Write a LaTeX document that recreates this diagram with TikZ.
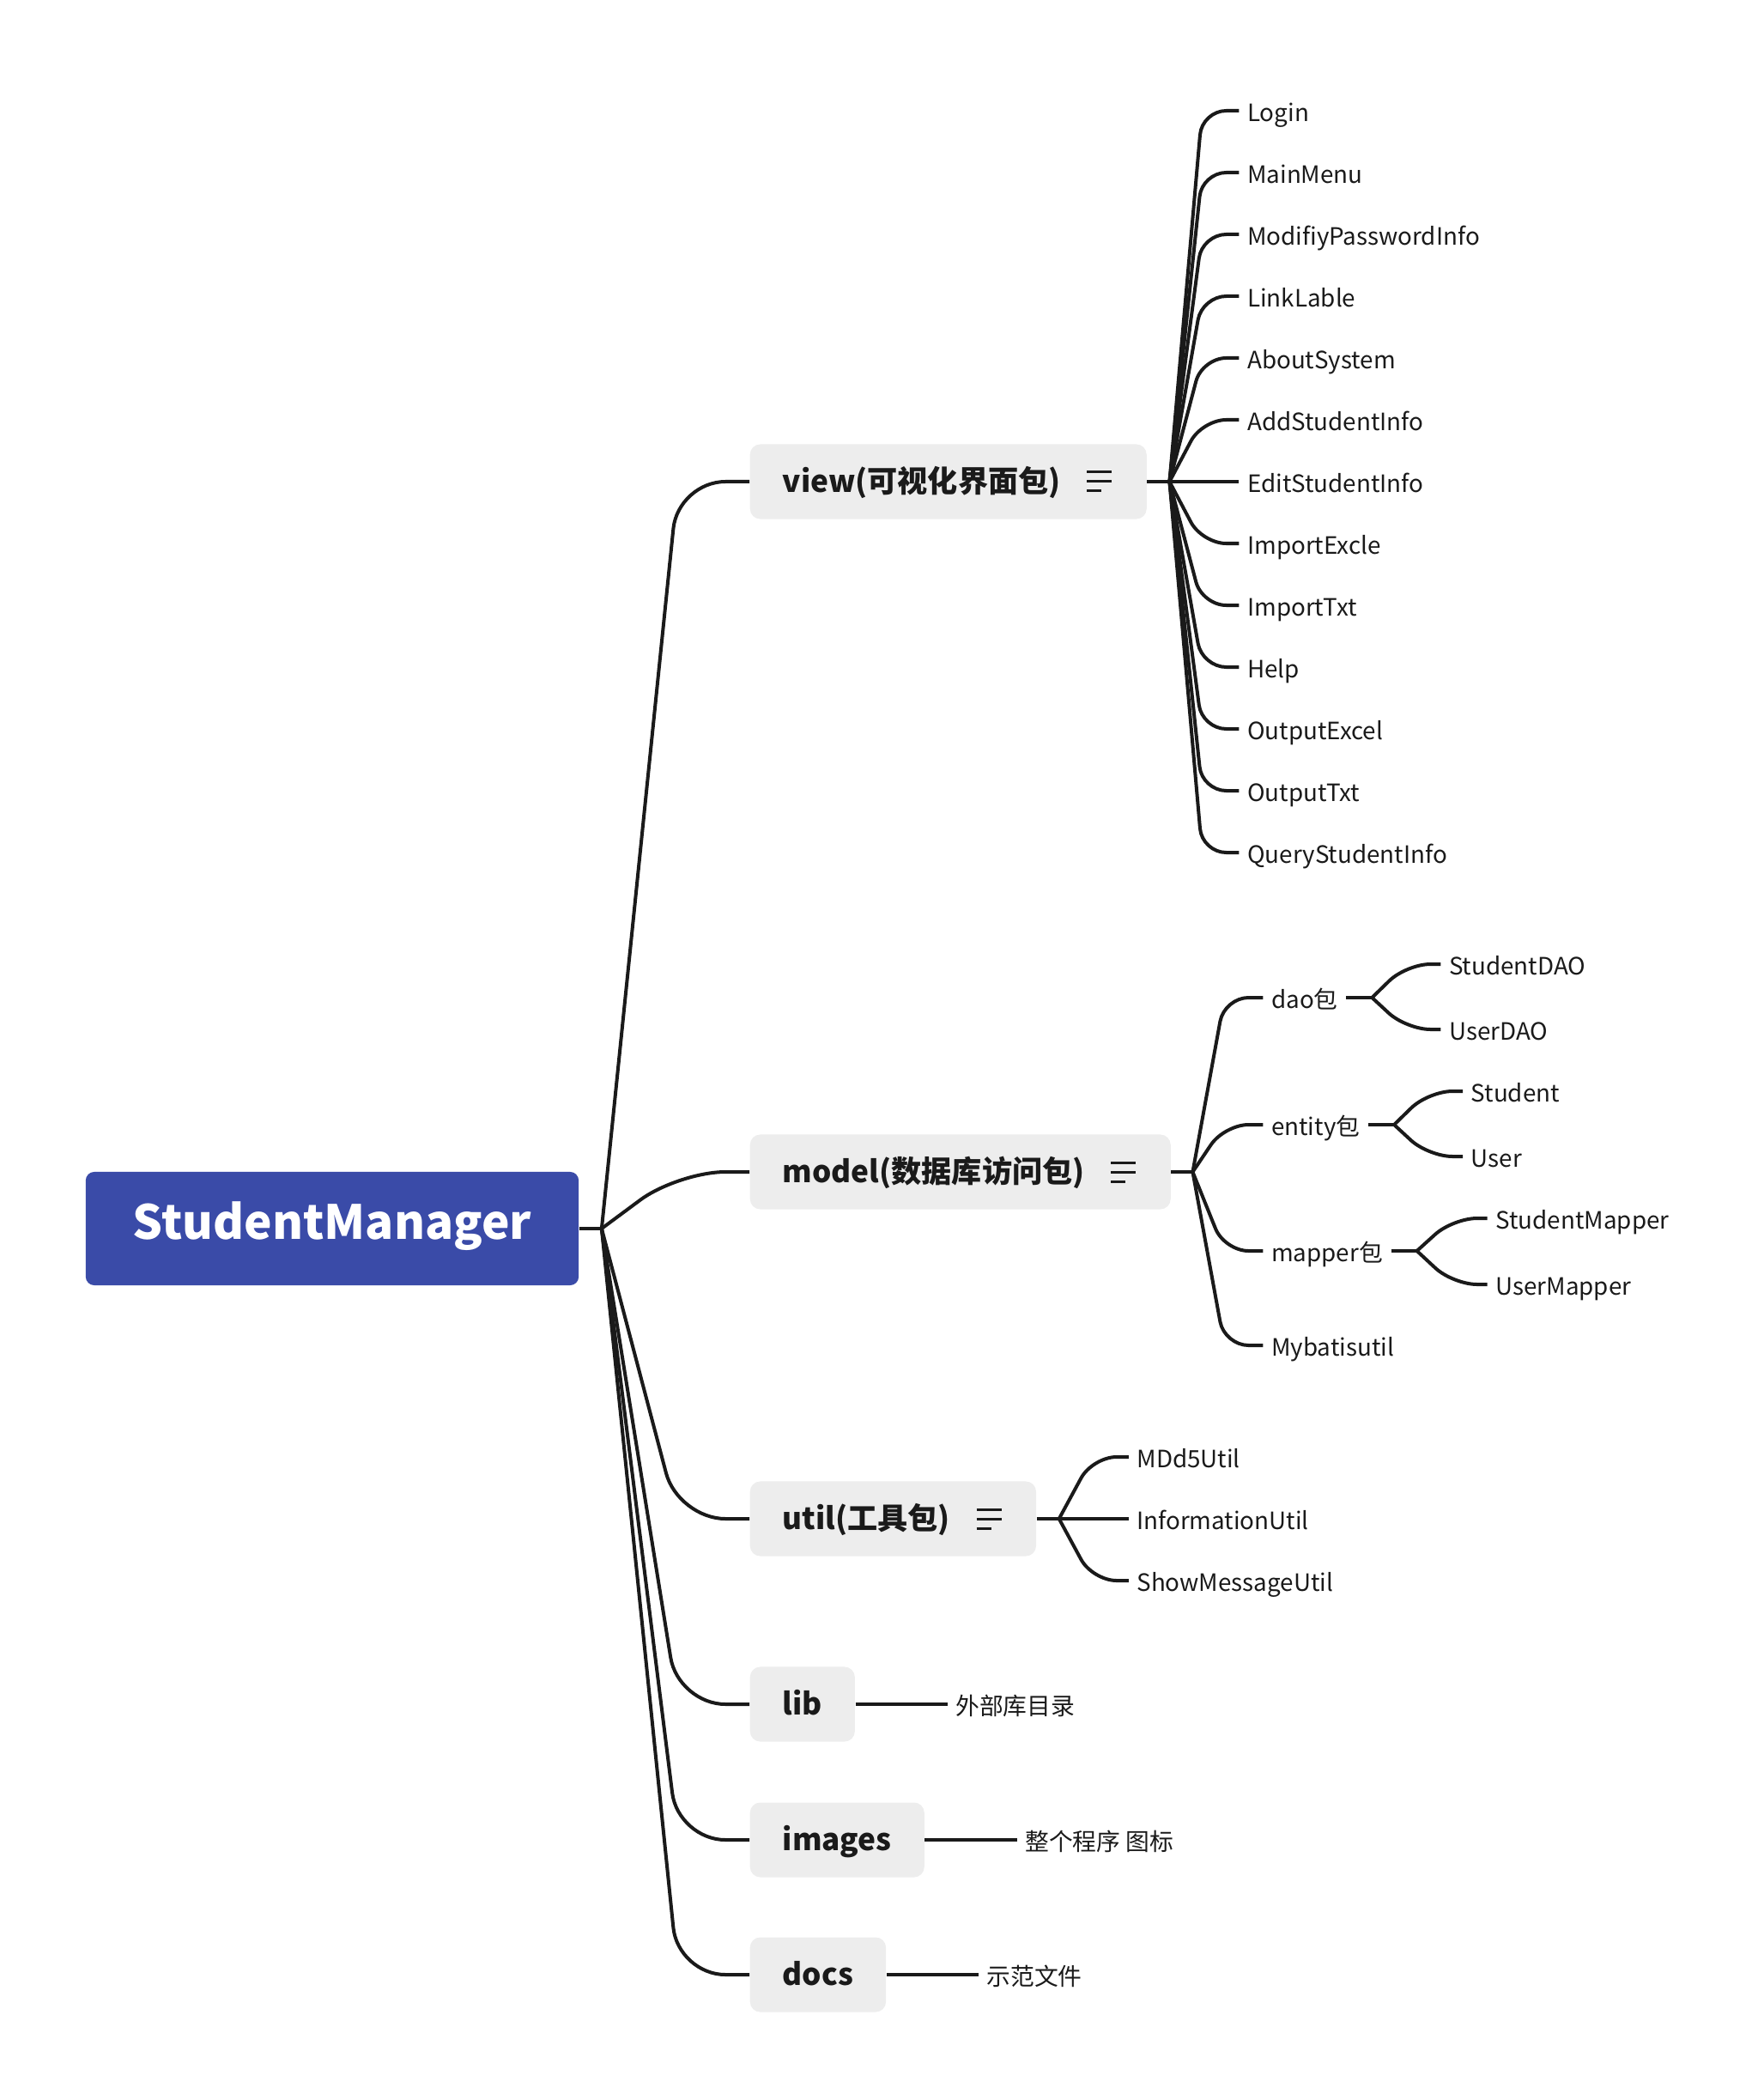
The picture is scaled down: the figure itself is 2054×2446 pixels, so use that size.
\documentclass[tikz,border=0pt]{standalone}
\usepackage{fontspec}
\setmainfont{Noto Sans CJK SC}
\usepackage{tikz}
\usetikzlibrary{calc}
\usetikzlibrary{positioning}

\definecolor{rootblue}{HTML}{3A4BA8}
\definecolor{boxgray}{HTML}{EDEDED}
\definecolor{linecol}{HTML}{1A1A1A}

\newcommand{\iconspace}{\hspace*{0.62cm}}
\newcommand{\menuicon}[1]{%
  \draw[icon] ($(#1.east)+(-70,-11)$) -- +(29,0)
              ($(#1.east)+(-70,0)$) -- +(29,0)
              ($(#1.east)+(-70,11)$) -- +(17,0);}

\begin{document}
\begin{tikzpicture}
  [
    x=0.01cm, y=-0.01cm,
    root/.style   = {fill=rootblue, text=white, rounded corners=0.1cm, minimum width=5.74cm, minimum height=1.32cm, text height=0.8em, text depth=0.08em, font=\fontsize{15.6}{18}\selectfont\bfseries},
    branch/.style = {fill=boxgray, text=linecol, rounded corners=0.12cm, minimum height=0.87cm, inner xsep=0.38cm, text height=0.8em, text depth=0.08em, anchor=west, font=\fontsize{10}{12}\selectfont\bfseries},
    leaf/.style   = {inner xsep=0.09cm, inner ysep=0.05cm, anchor=west, text=linecol, text height=0.8em, text depth=0.08em, font=\fontsize{7.9}{9.5}\selectfont},
    link/.style   = {draw=linecol, line width=0.04cm, rounded corners=0.28cm},
    elbow/.style  = {to path={-- ($(\tikztotarget)+(-#1,0)$) -- (\tikztotarget)}},
    icon/.style   = {draw=linecol, line width=0.03cm},
  ]

  \useasboundingbox (0,0) rectangle (2054,2446);

  % the root
  \node[root] (sm) at (387,1431) {StudentManager};
  \coordinate[right=0.26cm of sm] (smj);

  % the packages
  \node[branch] (view)   at (873,561)  {view(可视化界面包)\iconspace};
  \node[branch] (model)  at (873,1365) {model(数据库访问包)\iconspace};
  \node[branch] (util)   at (873,1769) {util(工具包)\iconspace};
  \node[branch] (lib)    at (873,1985) {lib};
  \node[branch] (images) at (873,2143) {images};
  \node[branch] (docs)   at (873,2300) {docs};

  \menuicon{view}
  \menuicon{model}
  \menuicon{util}

  \draw[link] (sm.east) -- (smj);
  \foreach \pkg in {view,model,util,lib,images,docs}
    \draw[link, rounded corners=0.55cm] (smj) to[elbow=83] (\pkg.west);

  % view
  \coordinate[right=0.26cm of view] (viewj);
  \draw[link] (view.east) -- (viewj);
  \foreach \name [count=\i] in {Login,MainMenu,ModifiyPasswordInfo,LinkLable,AboutSystem,AddStudentInfo,EditStudentInfo,ImportExcle,ImportTxt,Help,OutputExcel,OutputTxt,QueryStudentInfo}
  {
    \node[leaf] (view\i) at ($(viewj)+(81,{(\i-7)*72})$) {\name};
    \draw[link] (viewj) to[elbow=43] (view\i.west);
  }

  % model
  \coordinate[right=0.25cm of model] (modelj);
  \draw[link] (model.east) -- (modelj);
  \node[leaf] (dao)    at ($(modelj)+(82,-203)$) {dao包};
  \node[leaf] (entity) at ($(modelj)+(82,-55)$)  {entity包};
  \node[leaf] (mapper) at ($(modelj)+(82,92)$)   {mapper包};
  \node[leaf] (mybatis) at ($(modelj)+(82,202)$) {Mybatisutil};
  \foreach \sub in {dao,entity,mapper,mybatis}
    \draw[link] (modelj) to[elbow=45] (\sub.west);

  \coordinate[right=0.3cm of dao] (daoj);
  \node[leaf] (studentdao) at ($(daoj)+(80,-39)$) {StudentDAO};
  \node[leaf] (userdao)    at ($(daoj)+(80,37)$)  {UserDAO};

  \coordinate[right=0.3cm of entity] (entityj);
  \node[leaf] (student) at ($(entityj)+(80,-39)$) {Student};
  \node[leaf] (user)    at ($(entityj)+(80,37)$)  {User};

  \coordinate[right=0.3cm of mapper] (mapperj);
  \node[leaf] (studentmapper) at ($(mapperj)+(82,-38)$) {StudentMapper};
  \node[leaf] (usermapper)    at ($(mapperj)+(82,39)$)  {UserMapper};

  \draw[link] (dao.east) -- (daoj);
  \draw[link] (entity.east) -- (entityj);
  \draw[link] (mapper.east) -- (mapperj);
  \draw[link] (daoj) to[elbow=40] (studentdao.west) (daoj) to[elbow=40] (userdao.west);
  \draw[link] (entityj) to[elbow=40] (student.west) (entityj) to[elbow=40] (user.west);
  \draw[link] (mapperj) to[elbow=40] (studentmapper.west) (mapperj) to[elbow=40] (usermapper.west);

  % util
  \coordinate[right=0.26cm of util] (utilj);
  \draw[link] (util.east) -- (utilj);
  \foreach \name [count=\i] in {MDd5Util,InformationUtil,ShowMessageUtil}
  {
    \node[leaf] (util\i) at ($(utilj)+(81,{(\i-2)*72})$) {\name};
    \draw[link] (utilj) to[elbow=42] (util\i.west);
  }

  % lib, images, docs
  \node[leaf, right=1.07cm of lib]    (libnote)    {外部库目录};
  \node[leaf, right=1.07cm of images] (imagesnote) {整个程序 图标};
  \node[leaf, right=1.07cm of docs]   (docsnote)   {示范文件};
  \draw[link] (lib.east) -- (libnote.west);
  \draw[link] (images.east) -- (imagesnote.west);
  \draw[link] (docs.east) -- (docsnote.west);

\end{tikzpicture}
\end{document}
